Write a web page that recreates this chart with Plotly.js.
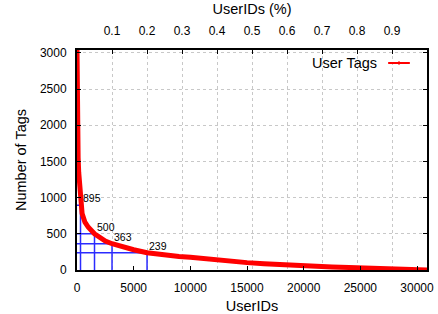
<!DOCTYPE html>
<html>
<head>
<meta charset="utf-8">
<script src="https://cdn.plot.ly/plotly-3.0.1.min.js"></script>
<style>html,body{margin:0;padding:0;background:#fff;}#chart{width:438px;height:314px;}</style>
</head>
<body>
<div id="chart"></div>
<script>
// Data
var totalUsers = 30880;
var userRank = [1, 3, 10, 20, 40, 70, 100, 150, 200, 309, 450, 700, 1000, 1545, 2000, 2500, 3090, 4000, 5000, 6180, 7500, 9000, 10000, 11000, 12500, 14000, 15000, 16500, 18000, 19700, 21000, 22500, 24000, 25500, 27000, 27500, 28500, 30000, 30880];
var tagCount = [3040, 2900, 2600, 2300, 1950, 1700, 1550, 1350, 1200, 895, 780, 660, 590, 500, 450, 400, 363, 320, 280, 239, 210, 188, 175, 158, 137, 117, 102, 86, 72, 58, 50, 42, 35, 28, 20, 10, 6, 3, 1];
var markRank = [309, 1545, 3090, 6180];
var markValue = [895, 500, 363, 239];
var markLabels = ['895', '500', '363', '239'];
var xTicks = [0, 5000, 10000, 15000, 20000, 25000, 30000];
var pctTicks = [0.1, 0.2, 0.3, 0.4, 0.5, 0.6, 0.7, 0.8, 0.9];
var yTicks = [0, 500, 1000, 1500, 2000, 2500, 3000];
var seriesName = 'User Tags';

var font = 'Liberation Sans, Arial, sans-serif';
var traces = [];
for (var i = 0; i < markRank.length; i++) {
  traces.push({
    x: [0, markRank[i], markRank[i]],
    y: [markValue[i], markValue[i], 0],
    mode: 'lines', line: {color: '#2b2bff', width: 1.5},
    showlegend: false, hoverinfo: 'skip', xaxis: 'x', yaxis: 'y'
  });
}
traces.push({
  x: userRank, y: tagCount, name: seriesName,
  mode: 'lines', line: {color: '#ff0000', width: 5},
  showlegend: false, xaxis: 'x', yaxis: 'y'
});
traces.push({
  x: [0, 1], y: [0, 0], mode: 'none', showlegend: false, hoverinfo: 'skip',
  xaxis: 'x2', yaxis: 'y'
});

var annotations = [];
for (var j = 0; j < markRank.length; j++) {
  annotations.push({
    x: markRank[j], y: markValue[j], xref: 'x', yref: 'y', text: markLabels[j],
    showarrow: false, xanchor: 'left', yanchor: 'middle', xshift: 0, yshift: 7,
    font: {family: font, size: 10.5, color: '#000'}
  });
}
annotations.push({
  x: 0.863, y: 0.941, xref: 'paper', yref: 'paper', text: seriesName,
  showarrow: false, xanchor: 'right', yanchor: 'middle',
  font: {family: font, size: 14.5, color: '#000'}
});

var layout = {
  width: 438, height: 314,
  margin: {l: 77, r: 11, t: 50, b: 44, pad: 0},
  paper_bgcolor: '#fff', plot_bgcolor: '#fff',
  font: {family: font, size: 12, color: '#000'},
  showlegend: false,
  xaxis: {
    range: [0, totalUsers], tickvals: xTicks, ticktext: xTicks.map(String),
    ticks: 'inside', ticklen: 4, tickwidth: 1, tickcolor: '#000',
    showgrid: false, zeroline: false,
    showline: true, linecolor: '#000', linewidth: 2, mirror: true,
    ticklabelstandoff: 6,
    tickfont: {family: font, size: 12, color: '#000'},
    title: {text: 'UserIDs', font: {family: font, size: 14.5, color: '#000'}, standoff: 6}
  },
  xaxis2: {
    overlaying: 'x', side: 'top', anchor: 'y', range: [0, 1],
    tickvals: pctTicks, ticktext: pctTicks.map(String),
    ticks: 'inside', ticklen: 4, tickwidth: 1, tickcolor: '#000',
    showgrid: true, gridcolor: '#c8c8c8', gridwidth: 1, griddash: 'dot',
    zeroline: false, showline: true, linecolor: '#000', linewidth: 2,
    ticklabelstandoff: 8,
    tickfont: {family: font, size: 12, color: '#000'},
    title: {text: 'UserIDs (%)', font: {family: font, size: 14.5, color: '#000'}, standoff: 6}
  },
  yaxis: {
    range: [0, 3040], tickvals: yTicks, ticktext: yTicks.map(String),
    ticks: 'inside', ticklen: 4, tickwidth: 1, tickcolor: '#000',
    showgrid: true, gridcolor: '#c8c8c8', gridwidth: 1, griddash: 'dot',
    zeroline: false, showline: true, linecolor: '#000', linewidth: 2, mirror: 'ticks',
    ticklabelstandoff: 6,
    tickfont: {family: font, size: 12, color: '#000'},
    title: {text: 'Number of Tags', font: {family: font, size: 14.5, color: '#000'}, standoff: 10}
  },
  annotations: annotations,
  shapes: [
    {type: 'line', xref: 'paper', yref: 'paper', x0: 0.889, x1: 0.951, y0: 0.941, y1: 0.941,
     line: {color: '#ff0000', width: 2}},
    {type: 'line', xref: 'paper', yref: 'paper', x0: 0.92, x1: 0.92, y0: 0.932, y1: 0.95,
     line: {color: '#ff0000', width: 1}}
  ]
};

Plotly.newPlot('chart', traces, layout, {staticPlot: true, displayModeBar: false});
</script>
</body>
</html>
